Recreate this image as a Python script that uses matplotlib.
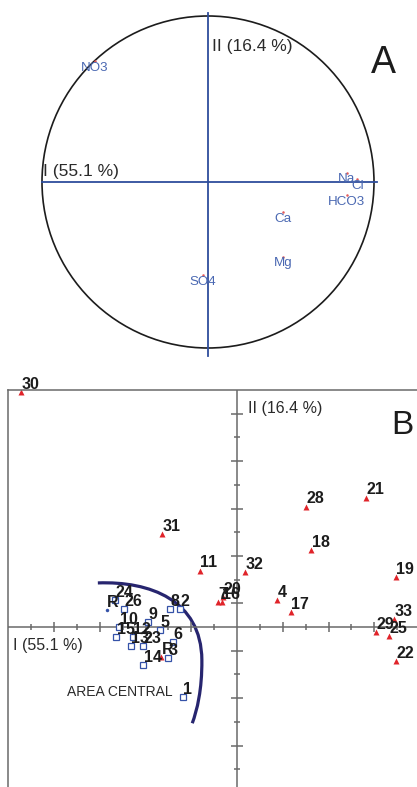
import matplotlib
matplotlib.use("Agg")
import matplotlib.pyplot as plt
from matplotlib.patches import Circle, PathPatch
from matplotlib.path import Path

plt.rcParams["font.family"] = ["Liberation Sans", "DejaVu Sans"]

# ── PANEL A: variable loadings (correlation circle) ──────────────────────────
var_names = ["NO3", "Na", "Cl", "HCO3", "Ca", "Mg", "SO4"]
var_x = [-0.68, 0.835, 0.90, 0.835, 0.454, 0.450, -0.030]
var_y = [0.729, 0.056, 0.016, -0.078, -0.183, -0.450, -0.560]

# ── PANEL B: sample scores ───────────────────────────────────────────────────
red_labels = ["30", "31", "11", "32", "7", "16", "20", "4", "17", "28", "18",
              "21", "19", "33", "29", "25", "22", "R"]
red_x = [-9.45, -3.29, -1.62, 0.35, -0.85, -0.68, -0.61, 1.74, 2.35, 3.02, 3.24,
         5.63, 6.94, 6.88, 6.07, 6.65, 6.96, -3.32]
red_y = [9.92, 3.92, 2.38, 2.32, 1.05, 1.05, 1.27, 1.14, 0.62, 5.08, 3.25,
         5.46, 2.12, 0.32, -0.20, -0.38, -1.43, -1.28]

blue_labels = ["24", "26", "8", "2", "9", "5", "10", "15", "12", "13", "23",
               "6", "3", "14", "1"]
blue_x = [-5.34, -4.94, -2.93, -2.49, -3.88, -3.37, -5.15, -5.29, -4.55, -4.64,
          -4.10, -2.81, -3.01, -4.10, -2.38]
blue_y = [1.14, 0.75, 0.75, 0.75, 0.22, -0.13, -0.01, -0.43, -0.42, -0.79,
          -0.79, -0.62, -1.32, -1.60, -2.97]

ref_label = "R"
ref_x, ref_y = -5.70, 0.72

# outline drawn around the "area central" samples
area_curve = [(-6.09, 1.86), (-3.81, 1.94), (-1.57, 1.14), (-1.54, -1.39),
              (-1.53, -2.66), (-1.75, -3.50), (-1.96, -4.06)]

x_ticks = [v for v in range(-9, 8) if v != 0]
y_ticks = [v for v in range(-6, 10) if v != 0]

AXIS_BLUE = "#2e4d9c"
LABEL_BLUE = "#4a68b2"
GREY = "#6a6a6a"
DARK = "#1c1c1c"

W, H = 417, 787
fig = plt.figure(figsize=(W / 100, H / 100), dpi=100)

# ── A ────────────────────────────────────────────────────────────────────────
R_PX, CX, CY = 166.0, 208.0, 182.0
top_h = 390
ax_a = fig.add_axes([0, 1 - top_h / H, 1, top_h / H])
ax_a.set_xlim(-CX / R_PX, (W - CX) / R_PX)
ax_a.set_ylim((CY - top_h) / R_PX, CY / R_PX)
ax_a.axis("off")

ax_a.add_patch(Circle((0, 0), 1.0, fill=False, ec=DARK, lw=1.2))
ax_a.plot([-1.0, 1.02], [0, 0], color=AXIS_BLUE, lw=1.3)
ax_a.plot([0, 0], [1.016, -1.048], color=AXIS_BLUE, lw=1.3)

ax_a.plot(var_x, var_y, "o", ms=1.8, color="#e35a5a", mec="none")
for name, x, y in zip(var_names, var_x, var_y):
    ax_a.annotate(name, (x, y), xytext=(0, -0.5), textcoords="offset points",
                  ha="center", va="top", fontsize=9.6, color=LABEL_BLUE)

ax_a.text(-0.994, 0.062, "I (55.1 %)", fontsize=12.5, color="#2a2a2a",
          ha="left", va="center")
ax_a.text(0.024, 0.815, "II (16.4 %)", fontsize=12.5, color="#2a2a2a",
          ha="left", va="center")
ax_a.text(1.054, 0.714, "A", fontsize=27, color=DARK, ha="center", va="center")

# ── B ────────────────────────────────────────────────────────────────────────
left_px, top_px = 8, 390
ax_b = fig.add_axes([left_px / W, 0, 1 - left_px / W, 1 - top_px / H])
ax_b.set_xlim(-10.02, 7.87)
ax_b.set_ylim(-6.75, 10.0)
for side in ["right", "bottom"]:
    ax_b.spines[side].set_visible(False)
for side in ["left", "top"]:
    ax_b.spines[side].set_color(GREY)
    ax_b.spines[side].set_linewidth(1.1)
ax_b.set_xticks([])
ax_b.set_yticks([])

ax_b.axhline(0, color=GREY, lw=1.1)
ax_b.axvline(0, color=GREY, lw=1.1)

x_major = [v for v in x_ticks if v % 2 == 0]
x_minor = [v for v in x_ticks if v % 2 != 0]
y_major = [v for v in y_ticks if v % 2 != 0]
y_minor = [v for v in y_ticks if v % 2 == 0]
ax_b.plot(x_major, [0] * len(x_major), "|", ms=7, mew=1.1, color=GREY)
ax_b.plot(x_minor, [0] * len(x_minor), "|", ms=4.5, mew=1.1, color=GREY)
ax_b.plot([0] * len(y_major), y_major, "_", ms=8, mew=1.1, color=GREY)
ax_b.plot([0] * len(y_minor), y_minor, "_", ms=4.5, mew=1.1, color=GREY)

verts = area_curve
codes = [Path.MOVETO] + [Path.CURVE4] * (len(verts) - 1)
ax_b.add_patch(PathPatch(Path(verts, codes), fill=False, ec="#27256f", lw=2.3,
                         capstyle="butt"))

ax_b.plot(blue_x, blue_y, "s", ms=4, mfc="white", mec="#3552a8", mew=0.9)
ax_b.plot(ref_x, ref_y, "o", ms=2.5, color="#3552a8", mec="none")
ax_b.plot(red_x, red_y, "^", ms=4, color="#e0242a", mec="none", clip_on=False)

for lab, x, y in zip(blue_labels + red_labels + [ref_label],
                     blue_x + red_x + [ref_x], blue_y + red_y + [ref_y]):
    ax_b.annotate(lab, (x, y), xytext=(0.3, 2.3), textcoords="offset points",
                  ha="left", va="baseline", fontsize=11.5, fontweight="bold",
                  color=DARK, annotation_clip=False)

ax_b.text(-9.80, -0.80, "I (55.1 %)", fontsize=11.5, color="#2a2a2a",
          ha="left", va="center")
ax_b.text(0.48, 9.24, "II (16.4 %)", fontsize=11.5, color="#2a2a2a",
          ha="left", va="center")
ax_b.text(-7.44, -2.74, "AREA CENTRAL", fontsize=10, color="#2a2a2a",
          ha="left", va="center")
ax_b.text(7.24, 8.52, "B", fontsize=24, color=DARK, ha="center", va="center")

fig.savefig("out.png", dpi=100)
